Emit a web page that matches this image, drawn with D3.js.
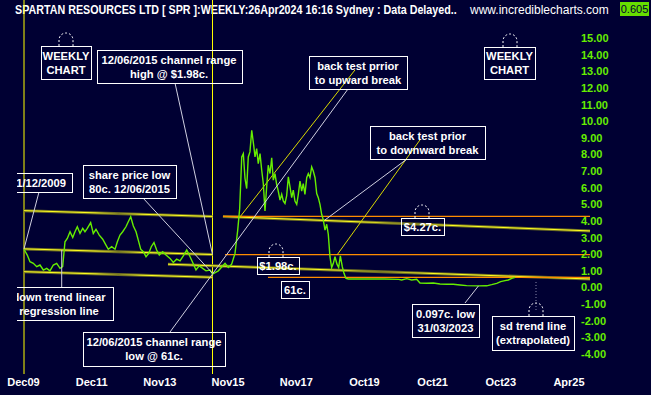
<!DOCTYPE html>
<html>
<head>
<meta charset="utf-8">
<script src="https://cdn.jsdelivr.net/npm/d3@7"></script>
<style>
  html, body { margin: 0; padding: 0; background: #000033; }
  svg { display: block; }
</style>
</head>
<body>
<div id="chart"></div>
<script>
// Weekly closes
const dates = [
  "2009-12-01","2010-01-05","2010-02-03","2010-03-11","2010-04-16","2010-05-21","2010-06-26","2010-08-01","2010-09-05","2010-10-11",
  "2010-11-16","2010-12-22","2011-01-19","2011-02-13","2011-03-10","2011-04-08","2011-05-07","2011-05-31","2011-06-25","2011-07-24",
  "2011-08-22","2011-09-15","2011-10-10","2011-11-15","2011-12-13","2012-01-11","2012-02-15","2012-03-23","2012-04-27","2012-05-22",
  "2012-06-27","2012-08-02","2012-08-27","2012-09-24","2012-10-23","2012-11-27","2012-12-22","2013-01-17","2013-02-14","2013-03-15",
  "2013-04-08","2013-05-04","2013-06-01","2013-06-30","2013-07-29","2013-08-25","2013-09-23","2013-10-22","2013-11-19","2013-12-25",
  "2014-01-30","2014-03-14","2014-04-18","2014-05-24","2014-06-29","2014-08-03","2014-09-09","2014-10-06","2014-11-12","2014-12-17",
  "2015-01-21","2015-02-27","2015-04-03","2015-05-16","2015-06-12","2015-08-13","2015-10-24","2015-11-28","2016-01-03","2016-02-08",
  "2016-03-08","2016-03-29","2016-04-20","2016-05-07","2016-05-25","2016-06-12","2016-06-29","2016-07-17","2016-08-05","2016-08-26",
  "2016-09-09","2016-09-27","2016-10-14","2016-11-02","2016-11-20","2016-12-07","2016-12-25","2017-01-12","2017-01-29","2017-02-17",
  "2017-03-07","2017-03-24","2017-04-11","2017-04-29","2017-05-16","2017-06-04","2017-06-22","2017-07-09","2017-07-27","2017-08-14",
  "2017-09-01","2017-09-19","2017-10-07","2017-10-24","2017-11-11","2017-11-30","2017-12-17","2018-01-04","2018-01-22","2018-02-08",
  "2018-02-26","2018-03-17","2018-04-03","2018-04-21","2018-05-09","2018-05-26","2018-06-14","2018-07-02","2018-07-19","2018-08-06",
  "2018-08-24","2018-09-11","2018-09-29","2018-10-17","2018-11-03","2018-11-21","2018-12-09","2018-12-27","2019-01-14","2019-02-04",
  "2019-02-22","2019-03-12","2019-04-02","2019-04-20","2019-05-12","2019-06-07","2019-12-20","2020-06-26","2020-11-26","2020-12-28",
  "2021-02-20","2021-04-14","2021-06-07","2021-07-12","2021-09-22","2021-12-02","2022-02-11","2022-04-24","2022-07-04","2022-09-14",
  "2022-11-24","2023-03-31","2023-06-27","2023-08-19","2023-10-12","2023-11-23","2024-01-09","2024-02-13","2024-03-21","2024-04-26"
];
const closes = [
  2.30,1.95,1.55,1.45,1.25,1.35,1.05,1.15,1.00,1.35,
  1.45,1.15,1.25,2.75,2.95,3.35,3.00,3.35,3.65,3.25,
  3.55,3.35,3.55,3.90,3.25,3.50,3.15,2.90,2.55,2.30,
  2.45,2.30,2.75,3.15,3.35,3.65,3.95,4.25,3.70,3.35,
  2.85,2.30,2.15,1.85,2.05,2.45,2.70,2.25,1.95,2.15,
  1.95,1.75,1.50,1.70,1.60,1.90,2.25,1.95,1.50,1.05,
  1.30,1.15,1.00,1.05,0.80,1.00,1.45,1.20,1.40,2.05,
  3.45,4.75,7.85,8.05,6.55,5.95,7.85,8.15,9.45,8.55,
  7.85,8.35,7.45,8.05,7.05,6.25,4.60,6.05,7.35,6.85,
  7.80,6.45,6.85,6.20,5.80,5.25,5.60,5.20,5.05,5.50,
  6.65,6.05,5.40,5.85,5.20,5.00,5.60,6.40,5.80,6.25,
  5.60,6.60,6.85,6.60,7.25,7.00,6.60,5.65,5.40,5.00,
  4.40,4.05,3.45,3.80,3.20,1.85,1.20,1.45,1.85,1.40,
  1.20,1.90,1.25,0.85,0.54,0.51,0.51,0.51,0.49,0.45,
  0.53,0.45,0.49,0.27,0.25,0.27,0.21,0.19,0.19,0.15,
  0.11,0.097,0.10,0.17,0.25,0.35,0.41,0.45,0.55,0.605
];
const lastPrice = 0.605;

const yTicks = [15, 14, 13, 12, 11, 10, 9, 8, 7, 6, 5, 4, 3, 2, 1, 0, -1, -2, -3, -4];
const xTickLabels = ["Dec09", "Dec11", "Nov13", "Nov15", "Nov17", "Oct19", "Oct21", "Oct23", "Apr25"];

// vertical markers
const markerDates = ["2009-12-01", "2015-06-12"];

// drawn trend lines: [startDate, startValue, endDate, endValue]
const channelLines = [
  ["2009-12-01", 4.62, "2015-06-12", 4.27],
  ["2009-12-01", 2.32, "2015-06-12", 1.98],
  ["2009-12-01", 0.95, "2015-06-12", 0.61],
  ["2015-10-02", 4.27, "2026-07-07", 3.40],
  ["2014-02-20", 1.40, "2026-07-07", 0.51]
];
const backTestLines = [
  ["2016-04-01", 4.24, "2019-08-16", 13.08],
  ["2019-02-04", 1.95, "2021-07-12", 8.87]
];
// horizontal levels
const levelValues = [4.27, 1.98, 0.61];
const levelStarts = ["2015-10-02", "2015-10-24", "2017-01-26"];

const notes = [
  ["WEEKLY", "CHART"],
  ["12/06/2015 channel range", "high @ $1.98c."],
  ["share price low", "80c. 12/06/2015"],
  ["01/12/2009"],
  ["down trend linear", "regression line"],
  ["12/06/2015 channel range", "low @ 61c."],
  ["$1.98c."],
  ["61c."],
  ["back test prrior", "to upward break"],
  ["back test prior", "to downward break"],
  ["WEEKLY", "CHART"],
  ["$4.27c."],
  ["0.097c. low", "31/03/2023"],
  ["sd trend line", "(extrapolated)"]
];
// pointer targets on the chart: [date, value]
const pointerTargets = [
  ["2009-12-01", 2.32],
  ["2015-06-12", 0.85],
  ["2015-06-12", 1.98],
  ["2011-01-09", 2.25],
  ["2018-09-29", 4.06],
  ["2023-03-31", 0.097]
];

// ---- layout ----
const width = 651, height = 395;
const parse = d3.timeParse("%Y-%m-%d");
const font = "'Liberation Sans', Arial, sans-serif";

// box layout for each note: x, y, w, h, text centre x
const noteBoxes = [
  [41, 46, 50, 33, 66],
  [97, 50, 145, 33, 169],
  [83, 165, 93, 33, 129.5],
  [-10, 173, 82, 19, 38],
  [5, 287, 108, 33, 59],
  [83, 332, 142, 34, 154],
  [257, 257, 42, 17, 278],
  [281, 281, 28, 17, 295],
  [309, 56, 98, 33, 358],
  [370, 126, 115, 33, 427.5],
  [484, 47, 51, 32, 509.5],
  [401, 218, 43, 17, 422.5],
  [412, 304, 67, 33, 445.5],
  [492, 316, 82, 34, 533]
];
// pointer start points (box edges), matched with pointerTargets
const pointerStarts = [[39, 192], [143, 198], [175, 83], [61.7, 287], [407, 159], [465, 303]];

const svg = d3.select("#chart").append("svg")
  .attr("width", width)
  .attr("height", height);

const defs = svg.append("defs");
defs.append("clipPath").attr("id", "noteClip")
  .append("rect").attr("x", 17).attr("y", 0).attr("width", 634).attr("height", height);

svg.append("rect").attr("width", width).attr("height", height).attr("fill", "#000033");

const x = d3.scaleTime()
  .domain([parse("2009-12-01"), parse("2026-07-07")])
  .range([24, 590]);
const y = d3.scaleLinear()
  .domain([-4, 15])
  .range([354, 38]);
const xLab = d3.scalePoint()
  .domain(xTickLabels)
  .range([23.5, 569]);

// title bar: bold text squeezed into a narrow face
const title = svg.append("text")
  .attr("font-family", font)
  .attr("font-weight", "bold").attr("font-size", 13)
  .attr("fill", "#ffffff")
  .text("SPARTAN RESOURCES LTD [ SPR ]:WEEKLY:26Apr2024 16:16 Sydney : Data Delayed..");
const titleLen = title.node().getComputedTextLength();
title.attr("transform", `translate(15,14) scale(${442 / titleLen},1)`);

svg.append("text")
  .attr("x", 470).attr("y", 14)
  .attr("font-family", font).attr("font-size", 12)
  .attr("fill", "#ffffff")
  .text("www.incrediblecharts.com");

svg.append("rect")
  .attr("x", 620).attr("y", 2).attr("width", 29).attr("height", 14)
  .attr("fill", "#66dd00");
svg.append("text")
  .attr("x", 634.5).attr("y", 13)
  .attr("text-anchor", "middle")
  .attr("font-family", font).attr("font-size", 11)
  .attr("fill", "#000033")
  .text(lastPrice.toFixed(3));

// vertical date markers
svg.selectAll(".marker").data(markerDates).join("line")
  .attr("x1", d => x(parse(d))).attr("x2", d => x(parse(d)))
  .attr("y1", 0).attr("y2", 374)
  .attr("stroke", "#ffff00").attr("stroke-width", 1);

// channel lines with faded middle
channelLines.forEach((l, i) => {
  const x1 = x(parse(l[0])), x2 = x(parse(l[2]));
  const grad = defs.append("linearGradient")
    .attr("id", "fade" + i)
    .attr("gradientUnits", "userSpaceOnUse")
    .attr("x1", x1).attr("x2", x2).attr("y1", 0).attr("y2", 0);
  [[0, 1], [0.38, 1], [0.5, 0.1], [0.62, 1], [1, 1]].forEach(s => {
    grad.append("stop").attr("offset", s[0]).attr("stop-color", "#ffff20").attr("stop-opacity", s[1]);
  });
  svg.append("line")
    .attr("x1", x1).attr("y1", y(l[1])).attr("x2", x2).attr("y2", y(l[3]))
    .attr("stroke", "#6e6e22").attr("stroke-width", 3);
  svg.append("line")
    .attr("x1", x1).attr("y1", y(l[1])).attr("x2", x2).attr("y2", y(l[3]))
    .attr("stroke", `url(#fade${i})`).attr("stroke-width", 1);
});

// horizontal levels
svg.selectAll(".level").data(levelValues).join("line")
  .attr("x1", (d, i) => x(parse(levelStarts[i])))
  .attr("x2", x.range()[1])
  .attr("y1", d => y(d)).attr("y2", d => y(d))
  .attr("stroke", "#ff8c00").attr("stroke-width", 1.2);

// back test lines
svg.selectAll(".backtest").data(backTestLines).join("line")
  .attr("x1", d => x(parse(d[0]))).attr("y1", d => y(d[1]))
  .attr("x2", d => x(parse(d[2]))).attr("y2", d => y(d[3]))
  .attr("stroke", "#d8d800").attr("stroke-width", 1);

// price
const series = dates.map((d, i) => ({ date: parse(d), close: closes[i] }));
svg.append("path")
  .datum(series)
  .attr("fill", "none")
  .attr("stroke", "#66ee00")
  .attr("stroke-width", 1.4)
  .attr("d", d3.line().x(d => x(d.date)).y(d => y(d.close)));

// annotations
const notesG = svg.append("g").attr("clip-path", "url(#noteClip)");

notesG.selectAll(".pointer").data(pointerTargets).join("line")
  .attr("x1", (d, i) => pointerStarts[i][0]).attr("y1", (d, i) => pointerStarts[i][1])
  .attr("x2", d => x(parse(d[0]))).attr("y2", d => y(d[1]))
  .attr("stroke", "#d0d0e0").attr("stroke-width", 1);

// link between the channel-low box and the upward back test box
notesG.append("line")
  .attr("x1", 170).attr("y1", 332).attr("x2", 348).attr("y2", 89)
  .attr("stroke", "#d0d0e0").attr("stroke-width", 1);

// faint guide under the sd trend box
notesG.append("line")
  .attr("x1", 536).attr("y1", 282).attr("x2", 536).attr("y2", 312)
  .attr("stroke", "#8888aa").attr("stroke-width", 1).attr("stroke-dasharray", "1,2");

notes.forEach((lines, i) => {
  const b = noteBoxes[i];
  notesG.append("rect")
    .attr("x", b[0] + 0.5).attr("y", b[1] + 0.5)
    .attr("width", b[2]).attr("height", b[3])
    .attr("fill", "none").attr("stroke", "#ffffff").attr("stroke-width", 1);
  const lh = 14;
  const top = b[1] + b[3] / 2 - (lines.length - 1) * lh / 2;
  lines.forEach((t, j) => {
    notesG.append("text")
      .attr("x", b[4]).attr("y", top + j * lh + 4)
      .attr("text-anchor", "middle")
      .attr("font-family", font).attr("font-weight", "bold").attr("font-size", 11.2)
      .attr("fill", "#ffffff")
      .text(t);
  });
});

// little dashed handles above some boxes
const handles = [[66, 46], [276, 257], [422, 218], [536, 316], [510, 47]];
handles.forEach(h => {
  notesG.append("path")
    .attr("d", `M${h[0] - 7},${h[1]} L${h[0] - 7},${h[1] - 6} A7,7 0 0 1 ${h[0] + 7},${h[1] - 6} L${h[0] + 7},${h[1]}`)
    .attr("fill", "none").attr("stroke", "#ffffff").attr("stroke-width", 1)
    .attr("stroke-dasharray", "2,2");
});

// right axis labels
svg.selectAll(".ylab").data(yTicks).join("text")
  .attr("x", 581).attr("y", d => y(d) + 4)
  .attr("font-family", font).attr("font-weight", "bold").attr("font-size", 11)
  .attr("fill", "#66ee00")
  .text(d => d.toFixed(2));

// bottom labels
svg.selectAll(".xlab").data(xTickLabels).join("text")
  .attr("x", d => xLab(d)).attr("y", 386)
  .attr("text-anchor", "middle")
  .attr("font-family", font).attr("font-weight", "bold").attr("font-size", 11)
  .attr("fill", "#ffffff")
  .text(d => d);
</script>
</body>
</html>
